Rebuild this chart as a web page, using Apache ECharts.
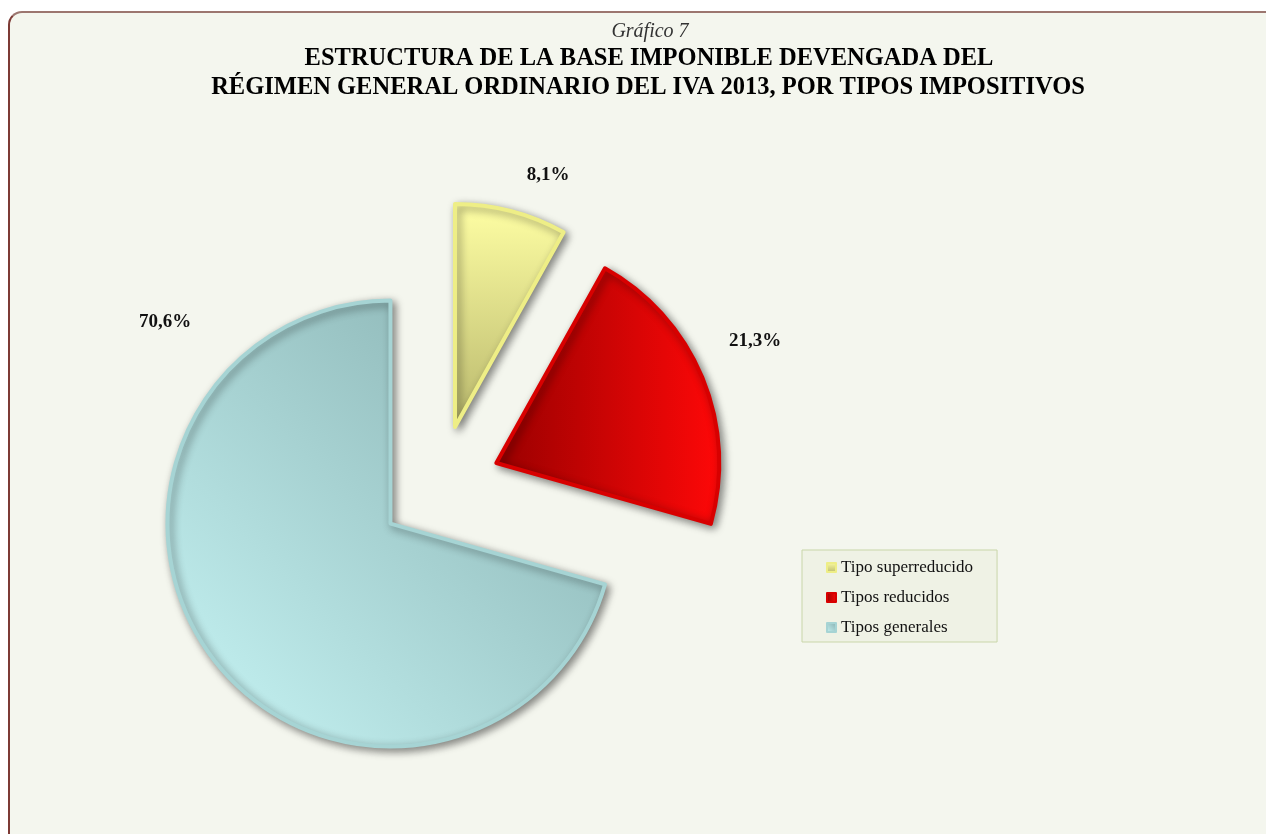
<!DOCTYPE html>
<html>
<head>
<meta charset="utf-8">
<script src="https://cdn.jsdelivr.net/npm/echarts@6/dist/echarts.min.js"></script>
<style>
  html, body { margin: 0; padding: 0; background: #ffffff; overflow: hidden; }
  #frame {
    position: absolute; left: 8px; top: 11px; width: 1290px; height: 860px;
    background: #f4f6ee; border: 2px solid #9c766f; border-left-color: #7d3a35;
    border-radius: 14px;
  }
  #chart { position: absolute; left: 0; top: 0; width: 1266px; height: 834px; }
</style>
</head>
<body>
<div id="frame"></div>
<div id="chart"></div>
<script>
// datos del gráfico
const categorias = ["Tipo superreducido", "Tipos reducidos", "Tipos generales"];
const valores = [8.1, 21.3, 70.6];

// estilos de cada porción (degradados como en el original)
const rellenos = [
  { type: "linear", x: 0, y: 0, x2: 0, y2: 1,
    colorStops: [{ offset: 0, color: "#ffffa4" }, { offset: 1, color: "#b8b76c" }] },
  { type: "linear", x: 0, y: 0, x2: 1, y2: 0,
    colorStops: [{ offset: 0, color: "#980000" }, { offset: 1, color: "#ff0808" }] },
  { type: "linear", x: 0, y: 1, x2: 1, y2: 0,
    colorStops: [{ offset: 0, color: "#c8f6f6" }, { offset: 1, color: "#84acac" }] },
];
const bordes = ["#eeee86", "#d80000", "#a6d4d4"];
// posición de las etiquetas (px)
const posEtiquetas = [[548, 175], [755, 341], [165, 322]];

const fmt = (v) => v.toFixed(1).replace(".", ",") + "%";

let chart = echarts.init(document.getElementById("chart"));
let option = {
  animation: false,
  graphic: [
    { type: "text", x: 650, y: 32,
      style: { text: "Gráfico 7", fill: "#333333", align: "center", verticalAlign: "middle",
        font: "italic 20px 'Liberation Serif'" } },
    { type: "text", x: 649, y: 59,
      style: { text: "ESTRUCTURA DE LA BASE IMPONIBLE DEVENGADA DEL", fill: "#000000",
        align: "center", verticalAlign: "middle", font: "bold 24.5px 'Liberation Serif'" } },
    { type: "text", x: 648, y: 88,
      style: { text: "RÉGIMEN GENERAL ORDINARIO DEL IVA 2013, POR TIPOS IMPOSITIVOS", fill: "#000000",
        align: "center", verticalAlign: "middle", font: "bold 24.5px 'Liberation Serif'" } },
  ].concat(valores.map((v, i) => ({
    type: "text", x: posEtiquetas[i][0], y: posEtiquetas[i][1],
    style: { text: fmt(v), fill: "#111111", align: "center", verticalAlign: "middle",
      font: "bold 19px 'Liberation Serif'" },
  }))),
  legend: {
    orient: "vertical",
    left: 802,
    top: 550,
    icon: "rect",
    itemWidth: 9,
    itemHeight: 9,
    itemGap: 13,
    padding: [9, 24, 6, 24],
    backgroundColor: "#eff2e5",
    borderColor: "#c9d6a9",
    borderWidth: 1,
    selectedMode: false,
    textStyle: { fontFamily: "Liberation Serif", fontSize: 17, color: "#111111" },
    data: categorias,
  },
  series: [
    {
      type: "pie",
      center: [439.5, 486.5],
      radius: 223,
      startAngle: 90,
      clockwise: true,
      selectedMode: "multiple",
      selectedOffset: 61.5,
      emphasis: { disabled: true },
      label: { show: false },
      labelLine: { show: false },
      itemStyle: {
        borderWidth: 4,
        shadowBlur: 8,
        shadowOffsetX: 3,
        shadowOffsetY: 3,
        shadowColor: "rgba(0,0,0,0.45)",
      },
      data: categorias.map((c, i) => ({
        name: c,
        value: valores[i],
        selected: true,
        itemStyle: { color: rellenos[i], borderColor: bordes[i] },
      })),
    },
  ],
};
chart.setOption(option);
</script>
</body>
</html>
